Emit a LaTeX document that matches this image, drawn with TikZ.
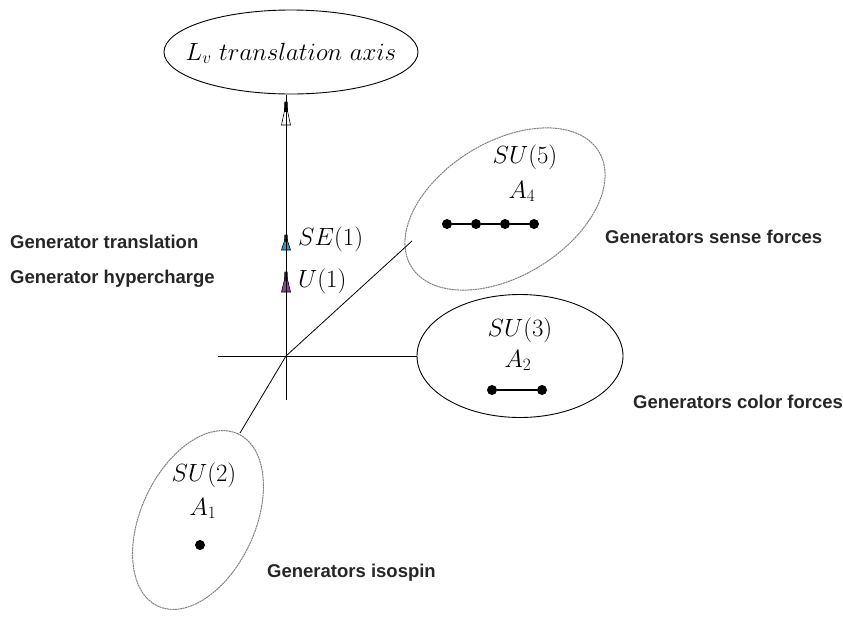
\documentclass[tikz,border=0pt]{standalone}
\usepackage{fontspec}
\newfontfamily\labfont{Liberation Sans}
\usetikzlibrary{shapes.geometric}
\definecolor{genblue}{RGB}{52,150,205}
\definecolor{genpurple}{RGB}{140,72,150}
\tikzset{
  ell/.style={ellipse, draw=black, line width=0.9pt, inner sep=0pt},
  gell/.style={ellipse, draw=black!50, line width=1pt, dash pattern=on 2pt off 0.6pt, inner sep=0pt},
  mth/.style={inner sep=0pt, anchor=base, font=\fontsize{25}{30}\selectfont},
  lab/.style={inner sep=0pt, anchor=base west, font=\labfont\bfseries\fontsize{18.5}{22}\selectfont, text=black!85},
  dotnode/.style={circle, fill=black, inner sep=0pt, minimum size=10pt},
  axisline/.style={line width=1pt, draw=black},
  pics/gen/.style n args={3}{code={
    \filldraw[fill=#1, draw=black, line width=0.6pt]
      (-1.6,0.4*#3) -- (-4.5,#3) -- (4.5,#3) -- (1.6,0.4*#3) -- cycle;
    \filldraw[fill=#2, draw=#2, line width=0.6pt]
      (-1.2,0) -- (-1.6,0.42*#3) -- (1.6,0.42*#3) -- (1.2,0) -- cycle;
  }}
}
\begin{document}
\begin{tikzpicture}[x=1pt,y=-1pt]
\useasboundingbox (0,0) rectangle (843,619);

% ellipses
\node[ell, minimum width=254pt, minimum height=84pt] (top) at (291,52) {};
\node[mth] (toptext) at (291,60) {$L_v\ translation\ axis$};
\node[gell, minimum width=220pt, minimum height=134pt, rotate=31.6] (su5) at (505,209) {};
\node[ell, minimum width=206pt, minimum height=123pt] (su3) at (520,356) {};
\node[gell, minimum width=190pt, minimum height=114pt, rotate=65] (su2) at (198,520) {};

% axis coordinates
\coordinate (o) at (286,356);
\coordinate (axtop) at (286,94.5);
\coordinate (axbot) at (286,400);
\coordinate (hleft) at (218,356);
\coordinate (e5) at (412,241);
\coordinate (e2) at (240,433);

% markers
\pic at (286,102) {gen={white}{black}{23}};
\pic at (286,235) {gen={genblue}{black!80!genblue}{15}};
\pic at (286,272) {gen={genpurple}{black!70!genpurple}{20}};

% axes
\draw[axisline] (axtop) -- (axbot);
\draw[axisline] (hleft) -- (su3.west);
\draw[axisline, line width=0.8pt] (o) -- (e5);
\draw[axisline, line width=0.8pt] (o) -- (e2);

% marker labels
\node[mth, anchor=base west] (se1) at (298,245) {$SE(1)$};
\node[mth, anchor=base west] (u1) at (298,287) {$U(1)$};

% SU(5)
\node[mth] (su5t) at (525,163) {$SU(5)$};
\node[mth] (a4) at (522,198) {$A_4$};
\node[dotnode] (d51) at (447,224) {};
\node[dotnode] (d52) at (476,224) {};
\node[dotnode] (d53) at (505,224) {};
\node[dotnode] (d54) at (534,224) {};
\draw[line width=1.2pt] (d51) -- (d52) -- (d53) -- (d54);

% SU(3)
\node[mth] (su3t) at (520,336) {$SU(3)$};
\node[mth] (a2) at (518,367) {$A_2$};
\node[dotnode] (d31) at (492,390) {};
\node[dotnode] (d32) at (542,390) {};
\draw[line width=1.2pt] (d31) -- (d32);

% SU(2)
\node[mth] (su2t) at (204,481) {$SU(2)$};
\node[mth] (a1) at (203,515) {$A_1$};
\node[dotnode] (d21) at (200,545) {};

% labels
\node[lab] (l1) at (10,248) {Generator translation};
\node[lab] (l2) at (10,283) {Generator hypercharge};
\node[lab] (l3) at (605,243) {Generators sense forces};
\node[lab] (l4) at (633,408) {Generators color forces};
\node[lab] (l5) at (267,577) {Generators isospin};
\end{tikzpicture}
\end{document}
